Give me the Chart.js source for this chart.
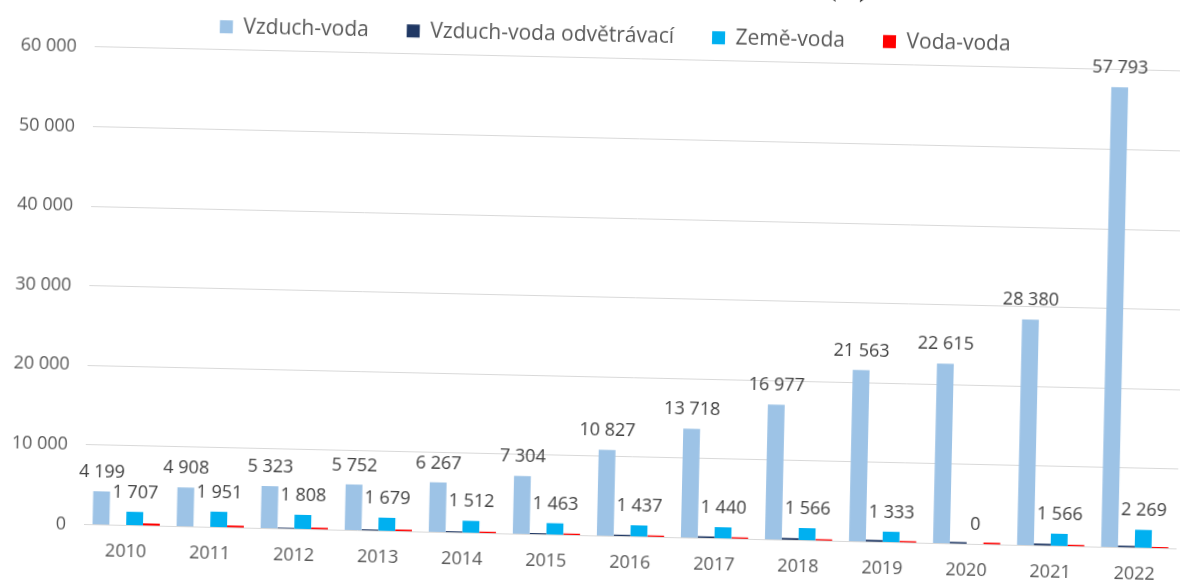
<!DOCTYPE html>
<html lang="cs">
<head>
<meta charset="utf-8">
<title>Prodej tepelných čerpadel</title>
<script src="https://cdn.jsdelivr.net/npm/chart.js@4.4.1/dist/chart.umd.min.js"></script>
<style>
  html, body { margin: 0; padding: 0; background: #fff; }
  body { width: 1180px; height: 582px; overflow: hidden; position: relative; }
  #wrap { position: absolute; left: 0; top: 0; }
  canvas { display: block; }
</style>
</head>
<body>
<div id="wrap"><canvas id="chart"></canvas></div>
<script>
const years = ["2010", "2011", "2012", "2013", "2014", "2015", "2016", "2017", "2018", "2019", "2020", "2021", "2022"];
const vzduchVoda = [4199, 4908, 5323, 5752, 6267, 7304, 10827, 13718, 16977, 21563, 22615, 28380, 57793];
const vzduchVodaOdvetr = [0, 0, 150, 170, 190, 180, 220, 240, 260, 280, 250, 270, 240];
const zemeVoda = [1707, 1951, 1808, 1679, 1512, 1463, 1437, 1440, 1566, 1333, 0, 1566, 2269];
const vodaVoda = [300, 260, 240, 230, 220, 210, 210, 200, 220, 200, 230, 210, 190];
const yTicks = [0, 10000, 20000, 30000, 40000, 50000, 60000];
const titleText = "Prodej tepelných čerpadel v letech 2010–2022 (ks)";

const FONT = "'Open Sans', sans-serif";
const plotW = 13 * 84.06;   // width of the plot area
const plotH = 478;          // height 0 .. 60 000
const tilt = 1.28;          // the scan is slightly rotated

function fmt(v) {
  return String(v).replace(/\B(?=(\d{3})+(?!\d))/g, " ");
}

// value labels above the big series
const valueLabels = {
  id: "valueLabels",
  afterDatasetsDraw(chart) {
    const ctx = chart.ctx;
    ctx.save();
    ctx.font = "18px " + FONT;
    ctx.fillStyle = "#404040";
    ctx.textAlign = "center";
    ctx.textBaseline = "alphabetic";
    [0, 2].forEach((i) => {
      const meta = chart.getDatasetMeta(i);
      meta.data.forEach((bar, j) => {
        ctx.fillText(fmt(chart.data.datasets[i].data[j]), bar.x, bar.y - 14);
      });
    });
    ctx.restore();
  }
};

// put legend and title where they sit in the picture
const placeHeader = {
  id: "placeHeader",
  afterLayout(chart) {
    const ca = chart.chartArea;
    const lg = chart.legend;
    const dx = ca.left + 520 - (lg.left + lg.right) / 2;
    const dy = ca.top - 37 - (lg.top + lg.bottom) / 2;
    lg.left += dx; lg.right += dx; lg.top += dy; lg.bottom += dy;

    const tb = chart.titleBlock;
    const ctx = chart.ctx;
    ctx.save();
    ctx.font = "bold 24px 'Liberation Serif', serif";
    const w = ctx.measureText(titleText).width;
    ctx.restore();
    const cx = ca.left + 771 - w / 2;
    tb.left = cx - w / 2 - 40;
    tb.right = cx + w / 2 + 40;
    tb.width = tb.right - tb.left;
    const cy = ca.top - 73;
    tb.top = cy - 14.4;
    tb.bottom = cy + 14.4;
  }
};

function makeConfig() {
  return {
    type: "bar",
    data: {
      labels: years,
      datasets: [
        { label: "Vzduch-voda", data: vzduchVoda, backgroundColor: "#9dc3e6" },
        { label: "Vzduch-voda odvětrávací", data: vzduchVodaOdvetr, backgroundColor: "#203864" },
        { label: "Země-voda", data: zemeVoda, backgroundColor: "#00b0f0" },
        { label: "Voda-voda", data: vodaVoda, backgroundColor: "#ff0000" }
      ]
    },
    options: {
      responsive: false,
      maintainAspectRatio: false,
      animation: false,
      devicePixelRatio: 1,
      layout: { padding: { left: 10, right: 0, top: 0, bottom: 10 } },
      datasets: { bar: { categoryPercentage: 0.8, barPercentage: 1.0 } },
      plugins: {
        title: {
          display: true,
          text: titleText,
          color: "#000",
          padding: 0,
          font: { family: "'Liberation Serif', serif", size: 24, weight: "bold" }
        },
        legend: {
          position: "top",
          labels: {
            boxWidth: 13,
            boxHeight: 13,
            padding: 38,
            color: "#595959",
            font: { family: FONT, size: 21 }
          }
        },
        tooltip: { enabled: false }
      },
      scales: {
        x: {
          grid: { display: false, drawTicks: false },
          border: { display: false },
          ticks: { color: "#595959", padding: 16, font: { family: FONT, size: 18 } }
        },
        y: {
          min: 0,
          max: 60000,
          afterBuildTicks(axis) {
            axis.ticks = yTicks.map((v) => ({ value: v }));
          },
          grid: { color: "#d9d9d9", lineWidth: 1, drawTicks: false },
          border: { display: false },
          ticks: {
            color: "#595959",
            padding: 18,
            font: { family: FONT, size: 18 },
            callback: (v) => fmt(v)
          }
        }
      }
    },
    plugins: [valueLabels, placeHeader]
  };
}

const canvas = document.getElementById("chart");
const wrap = document.getElementById("wrap");

function build(w, h) {
  canvas.width = w;
  canvas.height = h;
  canvas.style.width = w + "px";
  canvas.style.height = h + "px";
  return new Chart(canvas, makeConfig());
}

let W = 1250, H = 660;
let chart = build(W, H);
let ca = chart.chartArea;
W = Math.round(W + plotW - (ca.right - ca.left));
H = Math.round(H + plotH - (ca.bottom - ca.top));
chart.destroy();
chart = build(W, H);
ca = chart.chartArea;

// zero line starts at (84, 524) in the picture
wrap.style.left = (84 - ca.left) + "px";
wrap.style.top = (524 - ca.bottom) + "px";
wrap.style.transformOrigin = ca.left + "px " + ca.bottom + "px";
wrap.style.transform = "rotate(" + tilt + "deg)";
</script>
</body>
</html>
